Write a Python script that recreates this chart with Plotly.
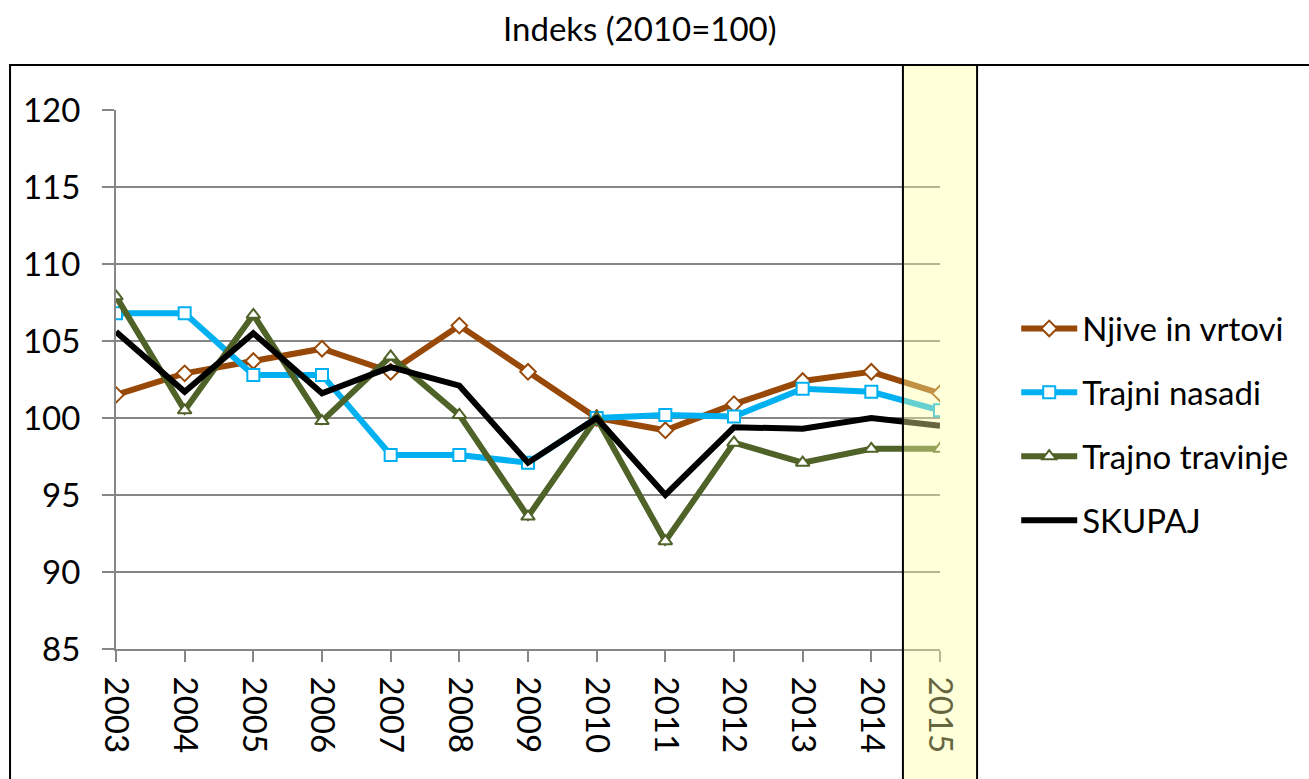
import plotly.graph_objects as go

years = [2003, 2004, 2005, 2006, 2007, 2008, 2009, 2010, 2011, 2012, 2013, 2014, 2015]
njive = [101.5, 102.9, 103.7, 104.5, 103.0, 106.0, 103.0, 100.0, 99.2, 100.9, 102.4, 103.0, 101.6]
nasadi = [106.8, 106.8, 102.8, 102.8, 97.6, 97.6, 97.1, 100.0, 100.2, 100.1, 101.9, 101.7, 100.5]
travinje = [107.9, 100.5, 106.7, 99.8, 104.0, 100.2, 93.6, 100.0, 92.0, 98.4, 97.1, 98.0, 98.0]
skupaj = [105.6, 101.7, 105.5, 101.6, 103.3, 102.1, 97.1, 100.0, 95.0, 99.4, 99.3, 100.0, 99.5]
names = ["Njive in vrtovi", "Trajni nasadi", "Trajno travinje", "SKUPAJ"]
y_ticks = [85, 90, 95, 100, 105, 110, 115, 120]
highlight_year = 2015

FONT = "Lato"
FS = 33
fig = go.Figure()
specs = [
    (njive, names[0], "#984807", "diamond"),
    (nasadi, names[1], "#00B0F0", "square"),
    (travinje, names[2], "#4F6228", "triangle-up"),
    (skupaj, names[3], "#000000", None),
]
for i, (vals, nm, col, sym) in enumerate(specs):
    mk = dict(symbol=sym, size=12, color="white", line=dict(width=2, color=col)) if sym else None
    fig.add_trace(go.Scatter(
        x=years, y=vals, name=nm, legendgroup=str(i),
        mode="lines+markers" if sym else "lines",
        line=dict(color=col, width=6),
        marker=mk,
    ))

# highlighted band around the last year (in paper coords derived from the x range)
x_lo, x_hi = years[0], years[-1]
def to_paper(v):
    return (v - x_lo) / (x_hi - x_lo)
fig.add_shape(type="rect", xref="paper", yref="paper",
              x0=to_paper(highlight_year - 0.54), x1=to_paper(highlight_year + 0.54),
              y0=-0.3, y1=1.0835, layer="above",
              fillcolor="rgba(255,255,160,0.4)", line=dict(color="black", width=2))
# outer frame
fig.add_shape(type="rect", xref="paper", yref="paper", x0=-0.1286, x1=1.47,
              y0=-0.3, y1=1.0835, layer="above",
              fillcolor="rgba(0,0,0,0)", line=dict(color="black", width=2))

fig.add_annotation(text="Indeks (2010=100)", xref="paper", yref="paper",
                   x=0.636, y=1.152, showarrow=False, yanchor="middle",
                   font=dict(family=FONT, size=33, color="black"))

fig.update_layout(
    width=1309, height=779,
    margin=dict(l=116, r=369, t=110, b=130, autoexpand=False),
    paper_bgcolor="white", plot_bgcolor="white",
    font=dict(family=FONT, size=FS, color="black"),
    showlegend=True,
    legend=dict(x=1.0925, y=0.4165, xanchor="left", yanchor="middle",
                font=dict(family=FONT, size=FS, color="black"),
                traceorder="grouped", tracegroupgap=18, itemwidth=56,
                bgcolor="rgba(0,0,0,0)"),
    xaxis=dict(range=[x_lo, x_hi], tickvals=years, ticktext=[str(y) for y in years],
               tickangle=90, ticks="outside", ticklen=11, tickwidth=2,
               tickcolor="#868686", showline=True, linecolor="#868686", linewidth=2,
               showgrid=False, zeroline=False, automargin=False, ticklabelstandoff=8,
               tickfont=dict(family=FONT, size=FS, color="black")),
    yaxis=dict(range=[85, 120], tickvals=y_ticks, ticks="outside", ticklen=12,
               tickwidth=2, tickcolor="#868686", showline=True, linecolor="#868686",
               linewidth=2, showgrid=True, gridcolor="#868686", gridwidth=2,
               zeroline=False, ticklabelstandoff=15, automargin=False,
               tickfont=dict(family=FONT, size=FS, color="black")),
)
fig.write_html("out.html", config={"displayModeBar": False},
               post_script="document.body.style.margin='0px';document.body.style.overflow='hidden';")
